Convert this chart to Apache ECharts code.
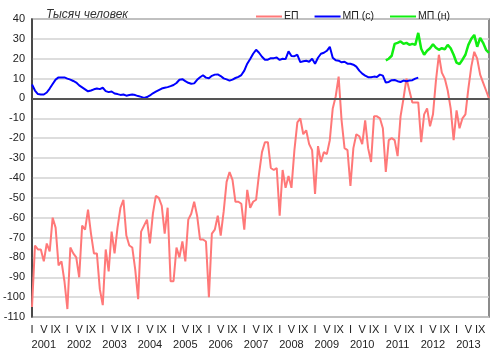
<!DOCTYPE html>
<html>
<head>
<meta charset="utf-8">
<script src="https://cdn.jsdelivr.net/npm/echarts@6/dist/echarts.min.js"></script>
<style>
html,body{margin:0;padding:0;background:#fff;}
#chart{width:500px;height:362px;}
</style>
</head>
<body>
<div id="chart"></div>
<script>
// ---- data ----
const years = ['2001','2002','2003','2004','2005','2006','2007','2008','2009','2010','2011','2012','2013'];
const monthLabels = ['I','','','','V','','','','IX','','',''];
const yTicks = [40,30,20,10,0,-10,-20,-30,-40,-50,-60,-70,-80,-90,-100,-110];
const seriesNames = ['ЕП','МП (с)','МП (н)'];

// ЕП, monthly, Jan 2001 – Dec 2013
const ep = [
  -105, -74, -76, -76, -82, -73, -77, -60, -65, -84, -82, -92,
  -106, -75, -78, -80, -90, -64, -66, -56, -68, -78, -78, -96,
  -104, -76, -87, -67, -78, -65, -55, -51, -69, -74, -75, -86,
  -101, -67, -64, -61, -73, -58, -49, -50, -54, -68, -55, -92,
  -92, -75, -80, -72, -82, -61, -58, -52, -59, -71, -71, -72,
  -100, -68, -66, -59, -69, -57, -42, -37, -41, -52, -52, -53,
  -66, -46, -55, -52, -51, -38, -27, -22, -22, -35, -36, -35,
  -59, -36, -45, -39, -45, -26, -12, -10, -18, -16, -23, -26,
  -48, -24, -32, -27, -28, -21, -5, 1, 11, -11, -25, -26,
  -44, -25, -18, -19, -23, -11, -25, -32, -9, -9, -10, -15,
  -37, -21, -20, -21, -29, -9, 0, 10, 4, -2, -2, -2,
  -22, -8, -5, -14, -8, 9, 22, 13, 10, 4, -5, -21,
  -6, -15, -10, -8, 5, 16, 23.5, 20, 12, 8, 4, 0
];

// МП (с), Jan 2001 – Dec 2011
const mpS = [
  7, 4, 2.2, 2, 2, 3, 5, 7.3, 9.5, 10.6, 10.6, 10.6,
  10, 9.5, 8.8, 8, 6.6, 5.6, 4.6, 3.6, 4, 4.6, 5, 4.7,
  5.4, 3.7, 3.2, 3.5, 2.5, 2.2, 1.8, 2, 1.4, 1.7, 2, 1.7,
  1.2, 0.8, 0.3, 0.7, 1.5, 2.6, 3.4, 4.2, 5, 5.4, 5.7, 6.2,
  6.8, 7.8, 9.4, 9.7, 8.7, 7.9, 7.4, 7.6, 9.4, 10.7, 11.7, 10.5,
  10.2, 11.4, 12, 12.1, 11.3, 10.1, 9.6, 9, 9.5, 10.3, 10.9, 11.8,
  14, 17.5, 19.9, 22.5, 24.5, 23, 21, 19.5, 19.5, 20.3, 20.3, 20.6,
  19.4, 20, 19.8, 23.7, 21.4, 21.3, 22, 18.3, 18.7, 19, 18.5, 20,
  17.5, 20.5, 22.5, 23, 24, 26, 20.5, 19.2, 19, 18.2, 18.5, 17.5,
  17.5, 17, 16, 14, 12.5, 11.5, 10.7, 10.7, 11, 10.8, 12, 11.5,
  8, 8.3, 9.2, 9.3, 8.7, 8.3, 9, 8.7, 9, 9.2, 10, 10.5
];

// МП (н), Jan 2011 – Dec 2013
const mpN = [
  19.2, 20, 21.5, 27.5, 28, 28.7, 27.5, 28, 27, 27.5, 27, 33,
  25, 22, 24, 25.3, 27.3, 25.5, 24.5, 25.3, 24.8, 27, 25.3, 22,
  18, 17.3, 19.5, 22, 27, 30, 32, 26, 30.5, 28, 24.5, 23
];

// ---- build ----
const cats = [];
years.forEach(y => monthLabels.forEach((m, k) => cats.push(y + '-' + (k + 1))));
const nPad = cats.length - mpN.length;
const mpNFull = new Array(nPad).fill(null).concat(mpN);

const FONT = 'Arial, "Liberation Sans", sans-serif';
const chart = echarts.init(document.getElementById('chart'), null, {renderer: 'canvas'});
chart.setOption({
  animation: false,
  backgroundColor: '#fff',
  textStyle: {fontFamily: FONT},
  title: {
    text: 'Тысяч человек',
    left: 41, top: 4,
    textStyle: {fontSize: 12, fontStyle: 'italic', fontWeight: 'normal', color: '#333', fontFamily: FONT}
  },
  legend: {
    left: 251, top: 6,
    itemWidth: 26, itemHeight: 2,
    itemGap: 16,
    icon: 'rect',
    textStyle: {fontSize: 10.5, color: '#222', fontFamily: FONT, padding: [0,0,0,-3]},
    data: seriesNames
  },
  grid: {
    left: 30, right: 11, top: 19, bottom: 45,
    show: true, borderColor: '#666', borderWidth: 1.5,
    containLabel: false
  },
  xAxis: [{
    type: 'category',
    data: cats,
    boundaryGap: false,
    axisLine: {show: true, lineStyle: {color: '#333', width: 1.5}},
    axisTick: {show: false},
    splitLine: {show: false},
    axisLabel: {
      interval: (i) => monthLabels[i % 12] !== '',
      formatter: (v, i) => monthLabels[i % 12],
      fontSize: 11, color: '#222', margin: 7, fontFamily: FONT
    }
  }, {
    type: 'category',
    data: cats,
    boundaryGap: false,
    position: 'bottom',
    offset: 15,
    axisLine: {show: false},
    axisTick: {show: false},
    axisLabel: {
      interval: (i) => i % 12 === 4,
      formatter: (v, i) => years[Math.floor(i / 12)],
      fontSize: 11, color: '#222', margin: 7, fontFamily: FONT
    }
  }],
  yAxis: {
    type: 'value',
    min: -110, max: 40, interval: 10,
    axisLine: {show: true, lineStyle: {color: '#333', width: 1.5}},
    axisTick: {show: false},
    axisLabel: {
      fontSize: 11, color: '#222', margin: 7, fontFamily: FONT,
      formatter: (v) => yTicks.includes(v) ? String(v) : ''
    },
    splitLine: {show: true, lineStyle: {color: '#d2d2d2', width: 1.5}}
  },
  series: [{
    name: seriesNames[0],
    type: 'line',
    data: ep,
    showSymbol: false,
    symbol: 'none',
    itemStyle: {color: '#ff7878'},
    lineStyle: {color: '#ff7878', width: 2},
    markLine: {
      silent: true,
      symbol: 'none',
      label: {show: false},
      lineStyle: {color: '#555', width: 2, type: 'solid'},
      data: [{yAxis: 0}]
    },
    z: 2
  }, {
    name: seriesNames[1],
    type: 'line',
    data: mpS,
    showSymbol: false,
    symbol: 'none',
    itemStyle: {color: '#0000ff'},
    lineStyle: {color: '#0000ff', width: 2},
    z: 3
  }, {
    name: seriesNames[2],
    type: 'line',
    data: mpNFull,
    showSymbol: false,
    symbol: 'none',
    itemStyle: {color: '#11ee11'},
    lineStyle: {color: '#11ee11', width: 2.5},
    z: 3
  }]
});
</script>
</body>
</html>
